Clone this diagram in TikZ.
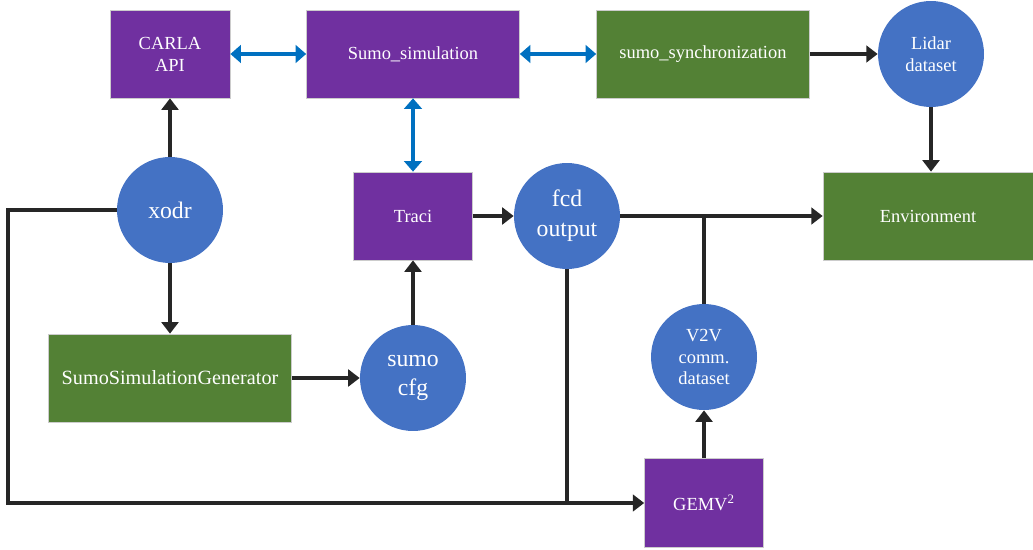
\documentclass[tikz,border=0pt]{standalone}
\usepackage{fontspec}
\setmainfont{Liberation Serif}
\usetikzlibrary{arrows.meta,positioning}
\definecolor{purp}{HTML}{7030A0}
\definecolor{grn}{HTML}{538135}
\definecolor{circ}{HTML}{4472C4}
\definecolor{blu}{HTML}{0070C0}
\definecolor{ink}{HTML}{262626}
\tikzset{
  box/.style={rectangle,draw=gray!40,line width=0.4pt,text=white,font=\fontsize{10.5}{12.5}\selectfont,
    minimum height=1.76cm,align=center,inner sep=2pt},
  pbox/.style={box,fill=purp},
  gbox/.style={box,fill=grn},
  blob/.style={circle,fill=circ,text=white,minimum size=2.12cm,inner sep=0pt,align=center,
    font=\fontsize{13.5}{17}\selectfont},
  smallblob/.style={blob,font=\fontsize{10.5}{12.5}\selectfont},
  link/.style={draw=ink,line width=1.8pt},
  arr/.style={link,-{Triangle[length=6.5pt,width=9.5pt]}},
  barr/.style={draw=blu,line width=1.8pt,{Triangle[length=6pt,width=10pt]}-{Triangle[length=6pt,width=10pt]}}
}

\begin{document}
\begin{tikzpicture}[x=0.02cm,y=-0.02cm]
    \useasboundingbox (0,0) rectangle (1033,550);

    % top row
    \node[pbox,minimum width=2.4cm] (carla) at (170,54) {CARLA\\API};
    \node[pbox,minimum width=4.26cm] (sumo) at (413,54) {Sumo\_simulation};
    \node[gbox,minimum width=4.26cm] (sync) at (703,54) {sumo\_synchronization};
    \node[smallblob] (lidar) at (931,54) {Lidar\\dataset};

    % middle row
    \node[blob] (xodr) at (170,210) {xodr};
    \node[pbox,minimum width=2.38cm] (traci) at (413,216) {Traci};
    \node[blob] (fcd) at (567,216) {fcd\\output};
    \node[gbox,minimum width=4.2cm] (env) at (928,216) {Environment};

    % bottom rows
    \node[gbox,minimum width=4.86cm,font=\fontsize{11.5}{13.5}\selectfont] (gen) at (170,378) {SumoSimulationGenerator};
    \node[blob] (cfg) at (413,378) {sumo\\cfg};
    \node[smallblob] (v2v) at (704,357) {V2V\\comm.\\dataset};
    \node[pbox,minimum width=2.38cm,minimum height=1.78cm] (gemv) at (704,503) {GEMV\textsuperscript{2}};

    \coordinate (corner) at (8,503);

    % connectors
    \draw[barr] (carla.east) -- (sumo.west);
    \draw[barr] (sumo.east) -- (sync.west);
    \draw[barr] (sumo.south) -- (traci.north);
    \draw[arr] (sync.east) -- (lidar.west);
    \draw[arr] (lidar.south) -- (lidar.south |- env.north);
    \draw[arr] (xodr.north) -- (carla.south);
    \draw[arr] (xodr.south) -- (gen.north);
    \draw[arr] (gen.east) -- (cfg.west);
    \draw[arr] (cfg.north) -- (traci.south);
    \draw[arr] (traci.east) -- (fcd.west);
    \draw[arr] (fcd.east) -- (env.west);
    \draw[link] (v2v.north) -- (v2v.north |- env.west);
    \draw[arr] (gemv.north) -- (v2v.south);
    \draw[arr] (xodr.west) -| (corner) -- (gemv.west);
    \draw[link] (fcd.south) -- (fcd.south |- gemv.west);
\end{tikzpicture}
\end{document}
